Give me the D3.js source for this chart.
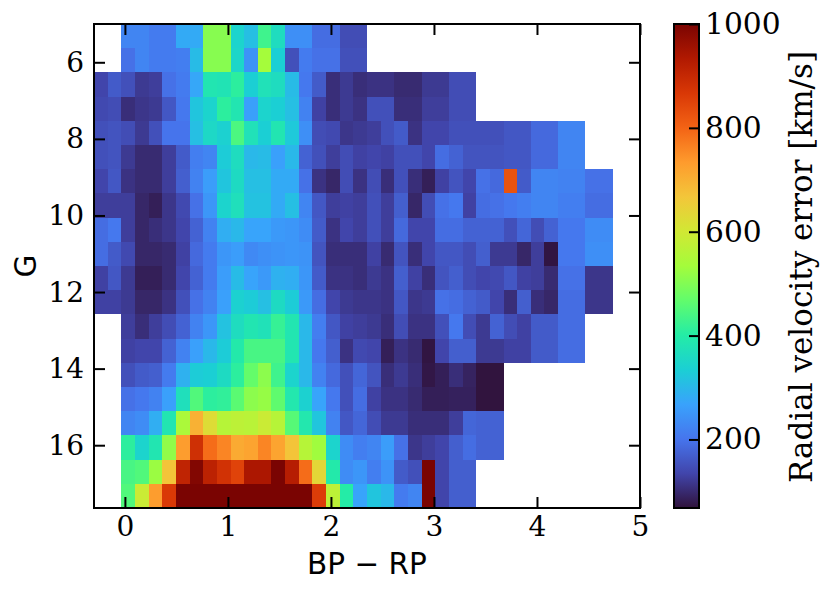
<!DOCTYPE html>
<html><head><meta charset="utf-8">
<script src="https://cdn.jsdelivr.net/npm/d3@7"></script>
<style>html,body{margin:0;padding:0;background:#fff}svg{display:block}</style>
</head><body><svg id="c" width="831" height="594"></svg>
<script>
const _ = null;
const xStart = -0.3, xBin = 0.1325, gStart = 5, gBin = 0.632;
const xTicks = [0,1,2,3,4,5];
const gTicks = [6,8,10,12,14,16];
const cbTicks = [200,400,600,800,1000];
const cbDomain = [68,1000];
const turboStops = ["#30123b","#4145ab","#4675ed","#39a2fc","#1bcfd4","#24eca6","#61fc6c","#a4fc3b","#d1e834","#f3c63a","#fe9b2d","#f36315","#d93806","#b11901","#7a0402"];
const row00=[_,_,225,225,210,210,280,280,505,505,345,310,430,365,240,240,190,190,145,145];
const row01=[_,_,195,225,210,210,215,305,505,505,350,245,535,335,150,210,195,195,150,150];
const row02=[135,165,150,120,125,195,210,275,385,380,410,335,375,365,305,205,165,105,120,105,110,110,100,100,120,120,145,145];
const row03=[140,145,105,115,120,160,205,320,345,410,385,265,345,335,310,220,130,105,120,110,150,150,105,105,125,125,145,145];
const row04=[150,155,145,120,150,200,200,310,355,340,445,375,335,385,325,240,145,140,115,120,125,150,165,110,135,135,150,150,150,150,160,160,185,185,225,225];
const row05=[150,155,120,100,100,125,165,215,225,330,365,300,305,265,300,175,150,125,145,130,135,130,150,150,135,190,175,155,155,155,160,160,185,185,225,225];
const row06=[135,160,110,100,100,125,170,220,260,320,360,310,310,280,280,195,110,95,145,110,145,105,150,105,85,130,155,135,195,185,825,165,225,225,220,220,195,195];
const row07=[125,125,125,95,85,115,140,195,250,345,370,315,315,280,310,225,160,125,130,125,150,125,170,95,145,195,205,130,190,195,205,215,225,225,215,215,190,190];
const row08=[190,205,125,95,105,115,135,175,220,285,300,270,270,255,250,235,165,110,135,125,150,125,185,135,135,190,190,175,175,175,150,180,145,175,205,205,235,235];
const row09=[190,165,140,95,95,100,130,185,210,250,260,230,240,245,250,245,155,105,105,105,130,100,155,105,135,160,160,145,170,120,120,95,125,72,205,205,240,240];
const row10=[130,160,120,85,85,100,135,175,210,260,305,270,255,290,285,250,165,110,110,105,120,110,170,130,105,155,170,145,135,140,160,130,125,100,195,195,115,115];
const row11=[130,130,120,95,95,110,150,195,220,265,340,330,310,360,330,255,190,135,120,115,115,110,160,115,120,195,190,175,165,135,105,170,105,95,190,190,115,115];
const row12=[_,_,125,105,125,145,175,220,250,315,365,385,375,420,385,300,215,160,130,125,120,105,145,110,110,150,205,145,120,175,145,130,165,165,190,190];
const row13=[_,_,130,135,135,175,220,265,300,330,395,440,440,440,385,300,205,170,110,140,135,85,110,100,72,135,170,170,120,120,130,130,165,165,190,190];
const row14=[_,_,150,165,170,210,290,330,335,360,410,470,510,430,345,300,220,185,150,180,155,105,120,105,75,85,105,90,70,70];
const row15=[_,_,195,205,220,265,370,450,410,415,460,510,520,465,390,340,270,205,150,190,130,110,110,100,85,85,88,88,70,70];
const row16=[_,_,225,235,285,385,545,700,625,560,570,565,590,560,455,390,320,220,160,180,145,120,120,105,105,105,125,180,175,175];
const row17=[_,_,410,345,385,515,730,885,790,760,710,720,760,720,670,560,530,345,235,215,225,260,195,115,125,135,170,190,175,175];
const row18=[_,_,440,450,525,670,910,990,915,880,850,940,940,1000,925,790,635,395,235,250,215,245,165,150,1000,135,170,170];
const row19=[_,_,450,590,730,865,1000,1000,1000,1000,1000,1000,1000,1000,1000,1000,860,570,400,270,320,300,210,225,1000,135,170,170];
const rows=[row00,row01,row02,row03,row04,row05,row06,row07,row08,row09,row10,row11,row12,row13,row14,row15,row16,row17,row18,row19];

const serif="'DejaVu Serif',serif", sans="'DejaVu Sans',sans-serif";
const svg=d3.select("#c");
const m={l:94,r:640,t:24,b:508};
const x=d3.scaleLinear().domain([-0.3,5]).range([m.l,m.r]);
const y=d3.scaleLinear().domain([5,17.64]).range([m.t,m.b]);
const stopIdx=turboStops.map((_d,i)=>cbDomain[0]+(cbDomain[1]-cbDomain[0])*i/(turboStops.length-1));
const color=d3.scaleLinear().domain(stopIdx).range(turboStops).interpolate(d3.interpolateRgb).clamp(true);

const cells=rows.flatMap((r,j)=>r.map((v,i)=>({i,j,v}))).filter(d=>d.v!==null);
svg.append("g").attr("shape-rendering","crispEdges").selectAll("rect").data(cells).join("rect")
 .attr("x",d=>x(xStart+d.i*xBin)).attr("y",d=>y(gStart+d.j*gBin))
 .attr("width",d=>x(xStart+(d.i+1)*xBin)-x(xStart+d.i*xBin))
 .attr("height",d=>y(gStart+(d.j+1)*gBin)-y(gStart+d.j*gBin))
 .attr("fill",d=>color(d.v));

function ax(g,fn,lab){g.call(fn);g.attr("font-family",serif);g.select(".domain").remove();
 g.selectAll("line").attr("stroke","#000").attr("stroke-width",2);
 g.selectAll("text").attr("fill","#000").attr("font-size",lab||28);}
const tl=-11;
svg.append("g").attr("transform",`translate(0,${m.b})`).call(g=>ax(g,d3.axisBottom(x).tickValues(xTicks).tickFormat(d3.format("d")).tickSize(tl).tickPadding(8)));
svg.append("g").attr("transform",`translate(0,${m.t})`).call(g=>ax(g,d3.axisTop(x).tickValues(xTicks).tickFormat("").tickSize(tl)));
svg.append("g").attr("transform",`translate(${m.l},0)`).call(g=>ax(g,d3.axisLeft(y).tickValues(gTicks).tickFormat(d3.format("d")).tickSize(tl).tickPadding(10)));
svg.append("g").attr("transform",`translate(${m.r},0)`).call(g=>ax(g,d3.axisRight(y).tickValues(gTicks).tickFormat("").tickSize(tl)));
svg.append("rect").attr("x",m.l).attr("y",m.t).attr("width",m.r-m.l).attr("height",m.b-m.t).attr("fill","none").attr("stroke","#000").attr("stroke-width",2);

svg.append("text").attr("x",367).attr("y",574).attr("text-anchor","middle").attr("font-family",sans).attr("font-size",29.5).text("BP \u2212 RP");
svg.append("text").attr("transform","translate(36,266) rotate(-90)").attr("text-anchor","middle").attr("font-family",sans).attr("font-size",29.5).text("G");

// colorbar
const cb={l:674,r:699};
const cy=d3.scaleLinear().domain(cbDomain).range([m.b,m.t]);
const defs=svg.append("defs");
const grad=defs.append("linearGradient").attr("id","turbo").attr("x1",0).attr("x2",0).attr("y1",1).attr("y2",0);
turboStops.forEach((c,i)=>grad.append("stop").attr("offset",i/(turboStops.length-1)).attr("stop-color",c));
svg.append("rect").attr("x",cb.l).attr("y",m.t).attr("width",cb.r-cb.l).attr("height",m.b-m.t).attr("fill","url(#turbo)").attr("stroke","#000").attr("stroke-width",2);
svg.append("g").attr("transform",`translate(${cb.r},0)`).call(g=>ax(g,d3.axisRight(cy).tickValues(cbTicks).tickFormat(d3.format("d")).tickSize(0).tickPadding(6),29.7))
 .call(g=>g.selectAll(".tick").append("line").attr("x1",-10).attr("x2",0).attr("stroke","#000").attr("stroke-width",2));
svg.append("text").attr("transform","translate(812,267) rotate(-90)").attr("text-anchor","middle").attr("font-family",serif).attr("font-size",31).text("Radial velocity error [km/s]");
</script></body></html>
